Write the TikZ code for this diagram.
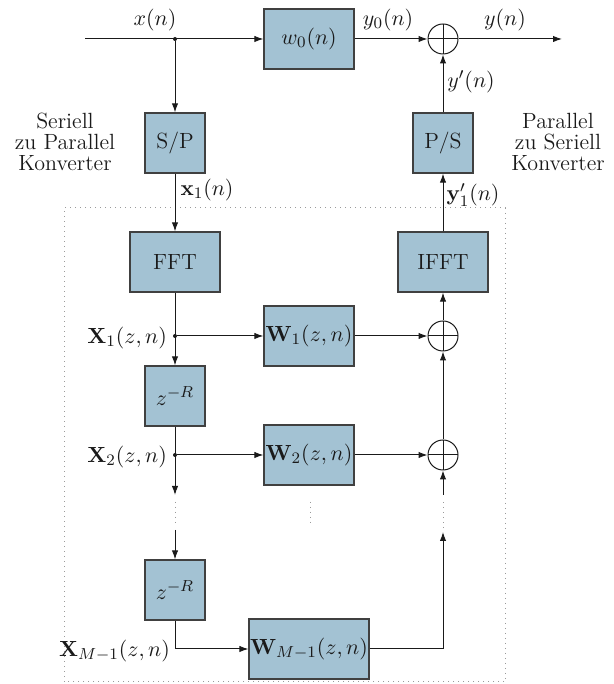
\documentclass[tikz,border=0pt]{standalone}
\usepackage{amsmath}
\usepackage{xcolor}
\usetikzlibrary{arrows.meta, positioning}
\definecolor{ink}{HTML}{1A1A1A}
\definecolor{blockA}{HTML}{A3C2D3}
\definecolor{grayB}{HTML}{404040}
\definecolor{grayC}{HTML}{9A9A9A}
\tikzset{
  txt/.style={font=\fontsize{11}{10.6}\selectfont, text=ink},
  block/.style={draw=grayB, line width=0.6pt, fill=blockA, inner sep=0pt, txt},
  sqblock/.style={block, minimum width=30pt, minimum height=30pt},
  wideblock/.style={block, minimum width=45pt, minimum height=30pt},
  sumnode/.style={circle, draw=ink, line width=0.5pt, minimum size=15pt, inner sep=0pt, fill=white,
    path picture={\draw[ink, line width=0.5pt] (path picture bounding box.north) -- (path picture bounding box.south)
      (path picture bounding box.west) -- (path picture bounding box.east);}},
  junc/.style={circle, fill=ink, inner sep=0pt, minimum size=2pt},
  sig/.style={draw=ink, line width=0.5pt, -{Latex[length=4.5pt,width=3.2pt]}},
  wire/.style={draw=ink, line width=0.5pt},
  dotline/.style={draw=grayC, dotted, line width=0.5pt}
}

\begin{document}
\begin{tikzpicture}[x=0.5pt,y=0.5pt]
\useasboundingbox (0,0) rectangle (614,684);

% dotted frame round the frequency domain part
\draw[dotline] (64,2) rectangle (505,476);

% top branch
\coordinate (in) at (85,645);
\coordinate (out) at (562,645);
\node[junc] (xj) at (175,645) {};
\node[wideblock] (w0) at (309,645) {$w_0(n)$};
\node[sumnode] (sum0) at (443,645) {};

\node[sqblock] (sp) at (175,541) {S/P};
\node[sqblock] (ps) at (443,541) {P/S};
\node[txt, align=center] (sptxt) at (65,542) {Seriell\\zu Parallel\\Konverter};
\node[txt, align=center] (pstxt) at (558,542) {Parallel\\zu Seriell\\Konverter};

\node[wideblock] (fft) at (175,422) {FFT};
\node[wideblock] (ifft) at (443,422) {IFFT};

% first tap
\node[junc] (x1j) at (175,348) {};
\node[wideblock] (w1) at (309,348) {$\mathbf{W}_1(z,n)$};
\node[sumnode] (sum1) at (443,348) {};
\node[sqblock] (zr1) at (175,288) {$z^{-R}$};

% second tap
\node[junc] (x2j) at (175,229) {};
\node[wideblock] (w2) at (309,229) {$\mathbf{W}_2(z,n)$};
\node[sumnode] (sum2) at (443,229) {};

% last tap
\node[sqblock] (zr2) at (175,94) {$z^{-R}$};
\node[block, minimum width=60pt, minimum height=30pt] (wm) at (309,35) {$\mathbf{W}_{M-1}(z,n)$};

% ends of the dotted gaps
\coordinate (ltop) at (175,189);
\coordinate (ldt) at (175,182);
\coordinate (ldb) at (175,159);
\coordinate (lbot) at (175,154);
\coordinate (rtop) at (443,189);
\coordinate (rdt) at (443,182);
\coordinate (rdb) at (443,156);
\coordinate (rbot) at (443,152);
\coordinate (mdt) at (310,182);
\coordinate (mdb) at (310,159);

% signal labels
\node[txt] (lx) at (155,664) {$x(n)$};
\node[txt] (ly0) at (388,664) {$y_0(n)$};
\node[txt] (ly) at (505,664) {$y(n)$};
\node[txt] (lyp) at (471,602) {$y'(n)$};
\node[txt] (lx1) at (207,494) {$\mathbf{x}_1(n)$};
\node[txt] (ly1) at (473,489) {$\mathbf{y}'_1(n)$};
\node[txt, anchor=east] (lX1) at (174,346) {$\mathbf{X}_1(z,n)$};
\node[txt, anchor=east] (lX2) at (174,227) {$\mathbf{X}_2(z,n)$};
\node[txt, anchor=east] (lXm) at (177,33) {$\mathbf{X}_{M-1}(z,n)$};

% connectors
\draw[sig] (in) -- (w0);
\draw[sig] (xj) -- (sp);
\draw[sig] (w0) -- (sum0);
\draw[sig] (sum0) -- (out);
\draw[sig] (ps) -- (sum0);
\draw[sig] (sp) -- (fft);
\draw[sig] (ifft) -- (ps);
\draw[sig] (fft) -- (zr1);
\draw[sig] (x1j) -- (w1);
\draw[sig] (w1) -- (sum1);
\draw[sig] (sum1) -- (ifft);
\draw[sig] (sum2) -- (sum1);
\draw[sig] (zr1) -- (ltop);
\draw[sig] (x2j) -- (w2);
\draw[sig] (w2) -- (sum2);
\draw[dotline] (ldt) -- (ldb);
\draw[sig] (lbot) -- (zr2);
\draw[sig] (zr2) |- (wm);
\draw[sig] (wm) -| (rbot);
\draw[dotline] (rdb) -- (rdt);
\draw[sig] (rtop) -- (sum2);
\draw[dotline] (mdt) -- (mdb);

\end{tikzpicture}
\end{document}
